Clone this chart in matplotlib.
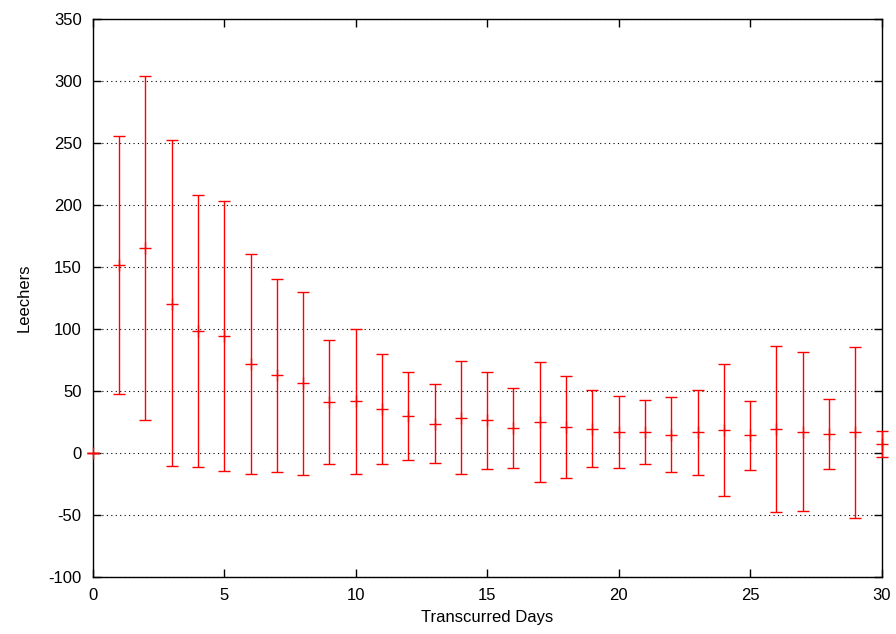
import matplotlib
matplotlib.use("Agg")
import matplotlib.pyplot as plt
import numpy as np

days = list(range(0, 31))
means = [0, 151, 164.8, 120.2, 98.1, 94.1, 71.5, 62.4, 56, 40.9, 41.4,
         35, 29.6, 23.4, 28.2, 26.4, 20.2, 24.8, 21, 19.1, 16.4,
         16.4, 14.5, 16.4, 18, 14, 19.1, 17, 15.1, 16.4, 6.8]
upper = [0, 255.6, 303.5, 252, 207.6, 202.7, 160.5, 140.3, 129.3, 90.9, 100,
         79.3, 65.1, 55.1, 73.7, 65.3, 52.2, 72.9, 62.1, 50.6, 45.5,
         42.5, 45.2, 50.8, 71.3, 41.7, 85.8, 81, 43, 85, 17.7]
lower = [0, 47, 26.4, -10.7, -11.5, -15, -17.2, -15.3, -17.7, -9.1, -17.2,
         -9.1, -5.9, -8.3, -17.2, -12.9, -12.1, -23.4, -20.4, -11.8, -12.6,
         -9.4, -15.6, -18, -35.2, -13.7, -48.1, -47, -12.9, -52.4, -3.7]

plt.rcParams['font.family'] = ['Liberation Sans', 'DejaVu Sans']
plt.rcParams['axes.unicode_minus'] = False

fig = plt.figure(figsize=(8.96, 6.34), dpi=100)
ax = fig.add_axes([0.1035, 0.0904, 0.8805, 0.8801])

m = np.array(means)
yerr = np.vstack([m - np.array(lower), np.array(upper) - m])
eb = ax.errorbar(days, means, yerr=yerr, fmt='none', ecolor='#ff0000',
                 elinewidth=1, capsize=4, capthick=1, zorder=3)
for art in eb.get_children():
    art.set_clip_on(False)
ax.plot(days, means, linestyle='none', marker='+', markersize=8,
        color='#ff0000', markeredgewidth=1, clip_on=False, zorder=3)

ax.set_xlim(0, 30)
ax.set_ylim(-100, 350)
ax.set_xticks(np.arange(0, 31, 5))
ax.set_yticks(np.arange(-100, 351, 50))
ax.yaxis.grid(True, linestyle=(0, (1, 3)), color='black', linewidth=0.8)
ax.set_axisbelow(True)
ax.tick_params(direction='in', top=True, right=True, length=6, width=1,
               labelsize=12)
ax.tick_params(axis='y', pad=8)
ax.tick_params(axis='x', pad=8)
for s in ax.spines.values():
    s.set_linewidth(1)
ax.set_xlabel('Transcurred Days', fontsize=12, labelpad=5)
ax.set_ylabel('Leechers', fontsize=12, labelpad=12)

fig.savefig('out.png', dpi=100)
